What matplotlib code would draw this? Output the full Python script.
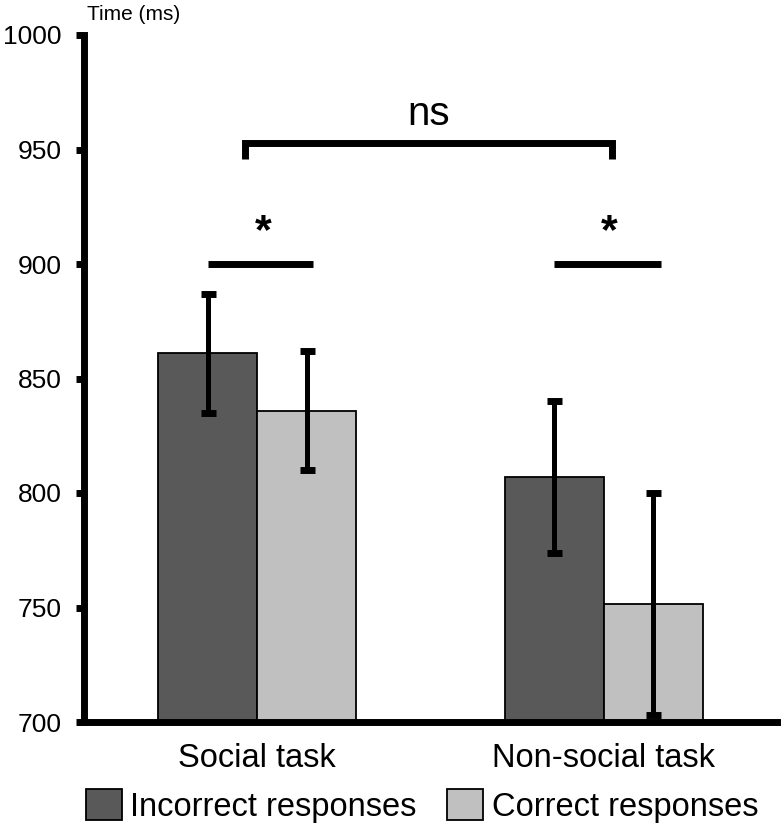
import matplotlib.pyplot as plt
import numpy as np

plt.rcParams['font.family'] = ['Liberation Sans', 'DejaVu Sans']

# data
tasks = ['Social task', 'Non-social task']
incorrect = [861, 807]
incorrect_err = [26, 33]
correct = [836, 751.5]
correct_err = [26, 48.5]
series_labels = ['Incorrect responses', 'Correct responses']
yticks = [700, 750, 800, 850, 900, 950, 1000]

fig = plt.figure(figsize=(7.84, 8.32), dpi=100)
ax = fig.add_axes([84/784, 1 - 722/832, (777-84)/784, (722-35)/832])

x = np.arange(len(tasks))
w = 0.286
err_kw = dict(elinewidth=3.6, capsize=5.4, capthick=5, ecolor='black')
b1 = ax.bar(x - w/2, [v - 700 for v in incorrect], w, bottom=700, color='#595959',
            edgecolor='black', linewidth=1.3, yerr=incorrect_err, error_kw=err_kw,
            label=series_labels[0])
b2 = ax.bar(x + w/2, [v - 700 for v in correct], w, bottom=700, color='#c0c0c0',
            edgecolor='black', linewidth=1.3, yerr=correct_err, error_kw=err_kw,
            label=series_labels[1])

ax.set_xlim(-0.5, 1.5)
ax.set_ylim(700, 1000)
ax.set_yticks(yticks)
ax.set_xticks(x)
ax.set_xticklabels(tasks, fontsize=23.5)
ax.tick_params(axis='y', labelsize=19, length=6, width=5, pad=10)
ax.tick_params(axis='x', length=0, pad=15)
for s in ['top', 'right']:
    ax.spines[s].set_visible(False)
for s in ['left', 'bottom']:
    ax.spines[s].set_linewidth(5)

# significance marks
ax.plot([-0.142, 0.162], [900, 900], color='black', lw=5, solid_capstyle='butt', clip_on=False)
ax.plot([0.855, 1.165], [900, 900], color='black', lw=5, solid_capstyle='butt', clip_on=False)
ax.text(0.017, 905, '*', ha='center', va='bottom', fontsize=31, fontweight='bold')
ax.text(1.015, 905, '*', ha='center', va='bottom', fontsize=31, fontweight='bold')
ax.plot([-0.035, -0.035, 1.023, 1.023], [946, 953, 953, 946], color='black', lw=5,
        solid_capstyle='butt', solid_joinstyle='miter', clip_on=False)
ax.text(0.494, 957, 'ns', ha='center', va='bottom', fontsize=29)

fig.text(87/784, 1 - 5/832, 'Time (ms)', ha='left', va='top', fontsize=15)

fig.legend(handles=[b1, b2], labels=series_labels, loc='center', ncol=2,
           bbox_to_anchor=(422/784, 1 - 806/832), frameon=False, fontsize=23.5,
           handlelength=1.1, handleheight=1.1, handletextpad=0.25,
           columnspacing=0.95, borderpad=0)

fig.savefig('out.png', dpi=100)
